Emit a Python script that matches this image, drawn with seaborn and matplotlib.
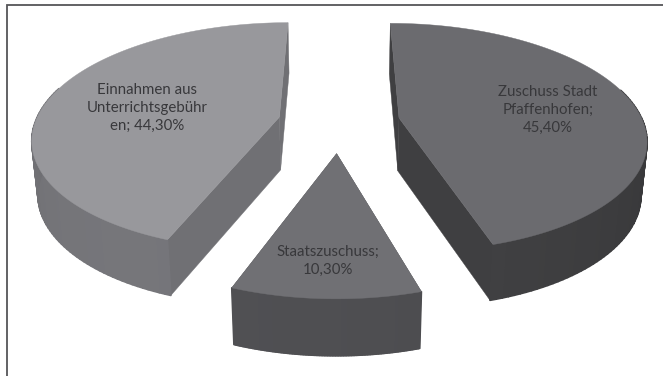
import numpy as np
import seaborn as sns
import matplotlib
matplotlib.use("Agg")
import matplotlib.pyplot as plt

sns.set_theme(style="white")
plt.rcParams["font.family"] = ["Lato", "DejaVu Sans"]

# Budget shares, clockwise from the top of the pie
labels = ["Zuschuss Stadt\nPfaffenhofen;", "Staatszuschuss;", "Einnahmen aus\nUnterrichtsgebühr\nen;"]
separators = ["\n", "\n", " "]
values = [45.4, 10.3, 44.3]
top_colors = ["#6b6b6f", "#707074", "#98989c"]
wall_colors = ["#3f3f41", "#4c4c4f", "#707074"]
explode = [0.25, 0.27, 0.25]
radius = [1.0, 0.975, 1.0]
label_pos = [(548, 110), (328, 261), (147, 108)]

# Projection of the pie plane onto the page
CX, CY = 339, 122
A, B, K = 244, 112, 0.17
DEPTH = 53


def project(x, y):
    d = 1 + K * y
    return CX + A * x / d, CY - B * y / d


def drop(x, y):
    """Lower edge of the pie wall below a point of the top face."""
    d = 1 + K * y
    px, py = project(x, y)
    return CX + (px - CX) * 0.98, py + DEPTH * d ** -0.3


def shade(color, f):
    rgb = np.array(matplotlib.colors.to_rgb(color))
    return tuple(np.clip(rgb * f, 0, 1))


fig = plt.figure(figsize=(6.63, 3.76), dpi=100)
ax = fig.add_axes([0, 0, 1, 1])
ax.set_xlim(0, 663)
ax.set_ylim(376, 0)
ax.axis("off")

# Frame runs along the top and left only
ax.plot([6.5, 6.5, 663], [376, 4.5, 4.5], color="#555558", lw=1.3, zorder=0,
        solid_joinstyle="miter")

spans = []
angle = 90.0
for v in values:
    sweep = v / sum(values) * 360
    spans.append((angle, angle - sweep))
    angle -= sweep

for i in [2, 0, 1]:  # back slices first
    a0, a1 = spans[i]
    mid = np.radians((a0 + a1) / 2)
    ox, oy = explode[i] * np.cos(mid), explode[i] * np.sin(mid)
    th = np.radians(np.linspace(a0, a1, 121))
    xs, ys = ox + radius[i] * np.cos(th), oy + radius[i] * np.sin(th)

    # Flat cut faces from the slice centre to both ends of the arc
    for ex, ey in [(xs[0], ys[0]), (xs[-1], ys[-1])]:
        p = [project(ox, oy), project(ex, ey), drop(ex, ey), drop(ox, oy)]
        ax.fill(*zip(*p), color=wall_colors[i], lw=0.3, zorder=2)

    # Curved outer wall, lit a little more towards the front left
    for j in range(len(th) - 1):
        if np.sin(th[j]) > 0.25 and np.sin(th[j + 1]) > 0.25:
            continue
        p = [project(xs[j], ys[j]), project(xs[j + 1], ys[j + 1]),
             drop(xs[j + 1], ys[j + 1]), drop(xs[j], ys[j])]
        f = 0.93 + 0.12 * np.cos(th[j] + np.radians(120))
        ax.fill(*zip(*p), color=shade(wall_colors[i], f), lw=1.2,
                joinstyle="round", zorder=3)

    top = [project(ox, oy)] + [project(x, y) for x, y in zip(xs, ys)]
    ax.fill(*zip(*top), color=top_colors[i], lw=0.3, zorder=4)

for name, sep, v, (x, y) in zip(labels, separators, values, label_pos):
    text = f"{name}{sep}{v:.2f}%".replace(".", ",")
    ax.text(x, y, text, ha="center", va="center", fontsize=10.8, color="#38383b",
            linespacing=1.36, zorder=5)

fig.savefig("out.png", dpi=100, facecolor="white")
